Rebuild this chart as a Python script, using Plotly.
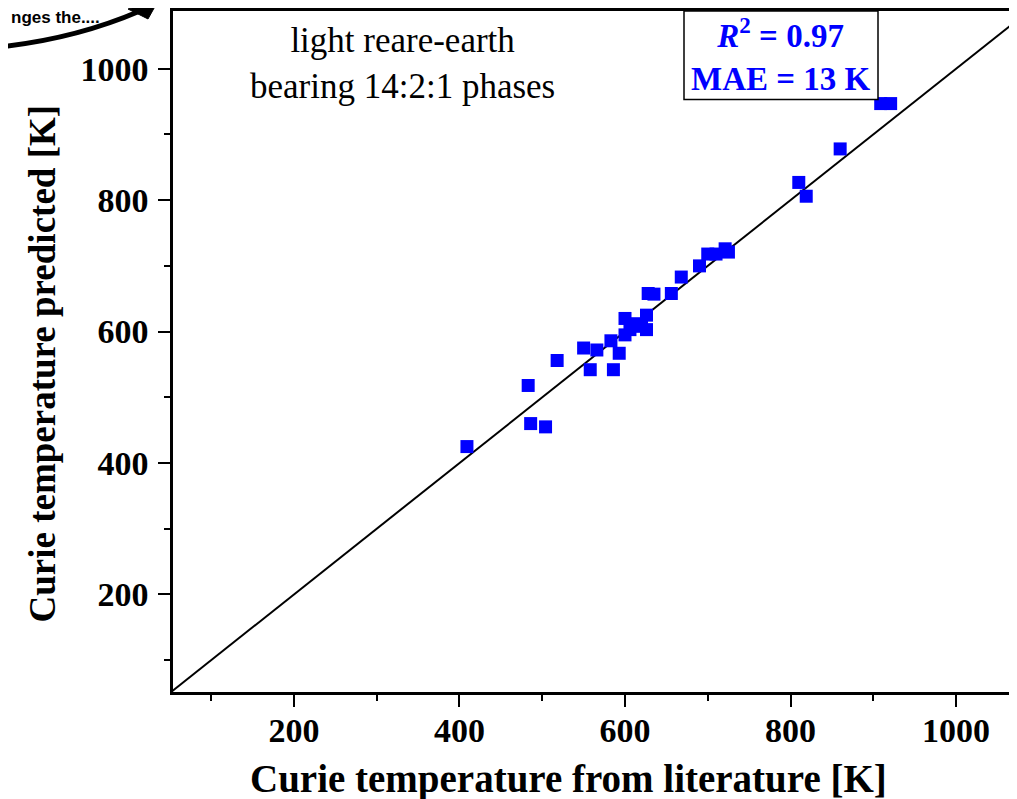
import plotly.graph_objects as go

# Data (Curie temperature, K)
t_literature = [409, 483, 486, 504, 518, 550, 558, 566, 583, 586, 593, 600, 600, 606,
                614, 620, 626, 626, 628, 635, 656, 668, 690, 700, 710, 721, 725,
                810, 819, 860, 909, 921]
t_predicted = [425, 518, 460, 455, 556, 575, 542, 572, 586, 542, 567, 595, 620, 603,
               612, 608, 625, 603, 658, 657, 658, 683, 700, 718, 718, 726, 721,
               827, 806, 878, 947, 947]

x_range = [53.8, 1073.7]
y_range = [51.5, 1087.9]
tick_vals = [200, 400, 600, 800, 1000]
tick_text = ["200", "400", "600", "800", "1000"]
minor_vals = [100, 300, 500, 700, 900]
x_title = "Curie temperature from literature [K]"
y_title = "Curie temperature predicted [K]"

# page body adds an 8px offset; figure geometry is set so the plot lands where the reference has it
OFF = 8
W, H = 1009, 791
L, R, T, B = 165, 0, 0, 107


def px(xr):
    return (xr - OFF - L) / (W - L - R)


def py(yr):
    return (H - B - (yr - OFF)) / (H - B - T)


SERIF = "Liberation Serif"
fig = go.Figure()

# y = x reference line
diag = [min(x_range[0], y_range[0]), max(x_range[1], y_range[1])]
fig.add_trace(go.Scatter(x=diag, y=diag, mode="lines",
                         line=dict(color="black", width=2), hoverinfo="skip",
                         showlegend=False))

fig.add_trace(go.Scatter(x=t_literature, y=t_predicted, mode="markers",
                         marker=dict(symbol="square", size=13, color="#0000FF",
                                     line=dict(width=0)),
                         showlegend=False))

axis_common = dict(
    showgrid=False, zeroline=False, showline=True, linecolor="black", linewidth=2.5,
    ticks="outside", ticklen=12, tickwidth=2, tickcolor="black",
    tickvals=tick_vals, ticktext=tick_text,
    minor=dict(ticks="outside", ticklen=6, tickwidth=2, tickcolor="black",
               tickvals=minor_vals),
    tickfont=dict(family=SERIF, size=34, color="black", weight="bold"),
)

fig.update_xaxes(range=x_range, mirror=True, ticklabelstandoff=-6, **axis_common)
fig.update_yaxes(range=y_range, mirror=False, ticklabelstandoff=3, **axis_common)

# axis titles (placed as in the reference, which is not centred on the plot area)
fig.add_annotation(xref="paper", yref="paper", x=px(568), y=py(779),
                   xanchor="center", yanchor="middle", text=x_title, showarrow=False,
                   font=dict(family=SERIF, size=39, color="black", weight="bold"))
fig.add_annotation(xref="paper", yref="paper", x=px(42), y=py(362),
                   xanchor="center", yanchor="middle", text=y_title, showarrow=False,
                   textangle=-90,
                   font=dict(family=SERIF, size=37, color="black", weight="bold"))

# R^2 / MAE box
fig.add_shape(type="rect", xref="paper", yref="paper",
              x0=px(684), x1=px(878), y0=py(97), y1=1,
              line=dict(color="black", width=1.5), fillcolor="white", layer="above")
fig.add_annotation(xref="paper", yref="paper", x=px(781), y=py(52),
                   xanchor="center", yanchor="middle",
                   text="<i>R</i><sup>2</sup> = 0.97<br>MAE = 13 K",
                   showarrow=False, align="center",
                   font=dict(family=SERIF, size=33, color="#0000FF", weight="bold"))

# description text
fig.add_annotation(xref="paper", yref="paper", x=px(402), y=py(61),
                   xanchor="center", yanchor="middle",
                   text="light reare-earth<br>bearing 14:2:1 phases",
                   showarrow=False, align="center",
                   font=dict(family=SERIF, size=35, color="black"))

# cropped decoration from neighbouring panel (top-left)
fig.add_shape(type="path", xref="paper", yref="paper",
              path=(f"M {px(0)},{py(44)} Q {px(75)},{py(36)} {px(140)},{py(8)}"),
              line=dict(color="black", width=5))
fig.add_shape(type="path", xref="paper", yref="paper",
              path=(f"M {px(128)},{py(6)} L {px(158)},{py(-2)} L {px(148)},{py(16)} Z"),
              line=dict(color="black", width=1), fillcolor="black")
fig.add_annotation(xref="paper", yref="paper", x=px(9), y=py(15),
                   xanchor="left", yanchor="middle",
                   text="nges the....", showarrow=False,
                   font=dict(family="Liberation Sans", size=17, color="black", weight="bold"))

fig.update_layout(width=W, height=H, margin=dict(l=L, r=R, t=T, b=B),
                  plot_bgcolor="white", paper_bgcolor="white")

fig.write_html("out.html")
